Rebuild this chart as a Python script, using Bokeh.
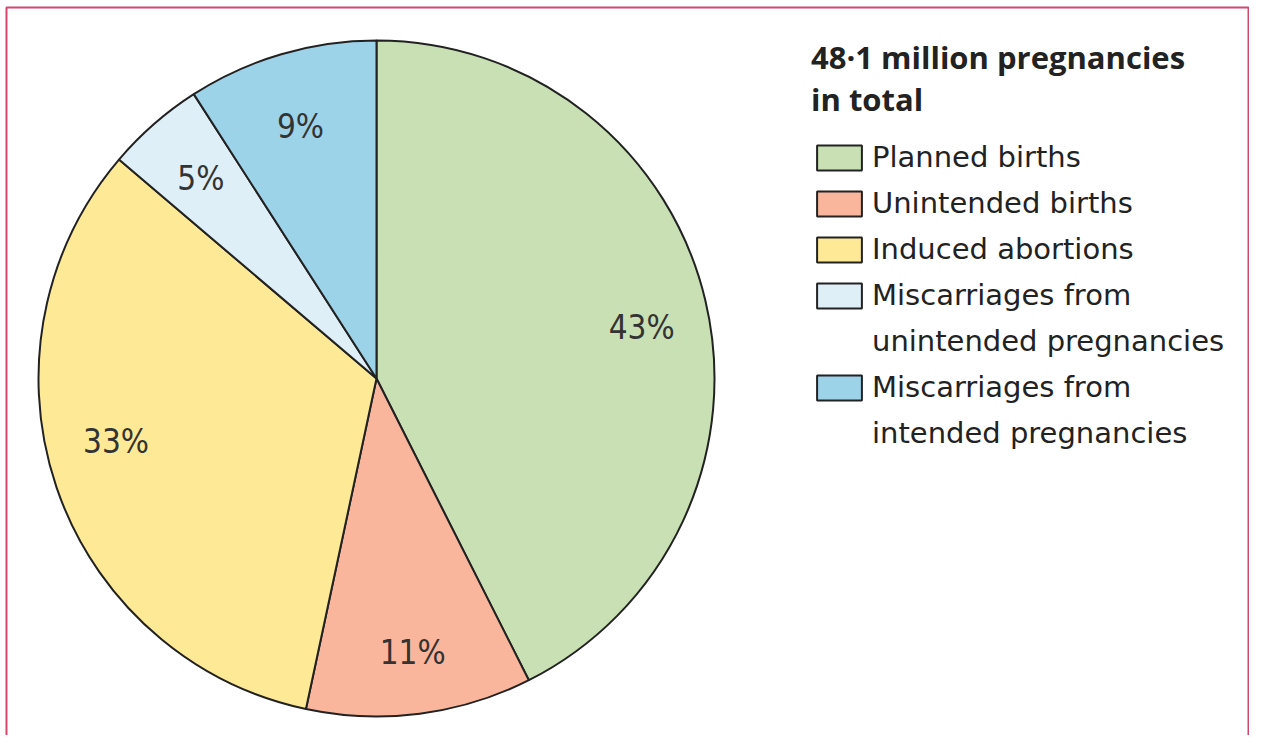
import math
from bokeh.plotting import figure
from bokeh.models import Range1d, ColumnDataSource, Legend, LegendItem
from bokeh.core.properties import value
from bokeh.embed import file_html
from bokeh.resources import INLINE

categories = ["Planned births", "Unintended births", "Induced abortions",
              "Miscarriages from\nunintended pregnancies",
              "Miscarriages from\nintended pregnancies"]
shares = [42.6, 10.8, 32.9, 4.7, 9.1]
pct_labels = ["43%", "11%", "33%", "5%", "9%"]
colors = ["#C8E0B4", "#F9B69C", "#FEE996", "#DEEFF8", "#9DD3E8"]
title_text = "48\u00b71 million pregnancies\nin total"

# layout: label placement (angle nudge in degrees, distance from centre in px)
label_nudge_deg = [-2.5, 0.15, -5.15, 0.15, 0.45]
label_radius = [270, 276, 268, 266, 263]

W, H = 1249, 735
cx, cy, R = 376, 357, 338
FONT = "DejaVu Sans"
NARROW = "'Liberation Sans Narrow', 'DejaVu Sans Condensed', 'Open Sans'"

total = sum(shares)
starts, ends, lx, ly = [], [], [], []
acc = 0.0
for i, s in enumerate(shares):
    a0 = math.pi / 2 - acc / total * 2 * math.pi
    acc += s
    a1 = math.pi / 2 - acc / total * 2 * math.pi
    starts.append(a0)
    ends.append(a1)
    mid = (a0 + a1) / 2 + math.radians(label_nudge_deg[i])
    lx.append(cx + label_radius[i] * math.cos(mid))
    ly.append(cy + label_radius[i] * math.sin(mid))

p = figure(width=W, height=H, x_range=Range1d(0, W), y_range=Range1d(0, H),
           output_backend="svg", toolbar_location=None, min_border=0)
p.axis.visible = False
p.grid.visible = False
p.outline_line_color = None
p.background_fill_color = "white"

# frame border (bottom edge falls outside the view)
p.quad(left=6, right=W - 1, top=H - 7, bottom=-20, fill_color=None,
       line_color="#D1476E", line_width=2)

items = []
for i, cat in enumerate(categories):
    src = ColumnDataSource(dict(x=[cx], y=[cy], s=[starts[i]], e=[ends[i]]))
    r = p.wedge(x="x", y="y", radius=R, start_angle="s", end_angle="e",
                direction="clock", source=src, fill_color=colors[i],
                line_color="#222222", line_width=2)
    lines = cat.split("\n")
    items.append(LegendItem(label=lines[0], renderers=[r]))
    for extra in lines[1:]:
        blank = p.wedge(x=[], y=[], radius=R, start_angle=0, end_angle=0,
                        fill_alpha=0, line_alpha=0)
        items.append(LegendItem(label=extra, renderers=[blank]))

lsrc = ColumnDataSource(dict(x=lx, y=ly, t=pct_labels))
p.text(x="x", y="y", text="t", source=lsrc, text_align="center",
       text_baseline="middle", text_font=value(NARROW), text_font_size="33px",
       text_color="#333333")

legend = Legend(items=items, location=(811, 285), title=title_text,
                title_text_font="Open Sans", title_text_font_style="bold",
                title_text_font_size="31px", title_text_color="#222222",
                title_standoff=20,
                label_text_font=FONT, label_text_font_size="29px",
                label_text_color="#222222",
                glyph_width=56, glyph_height=31, label_standoff=5,
                spacing=12, padding=0, margin=0,
                border_line_color=None, background_fill_alpha=0)
p.add_layout(legend)

open("out.html", "w").write(file_html(p, INLINE))
